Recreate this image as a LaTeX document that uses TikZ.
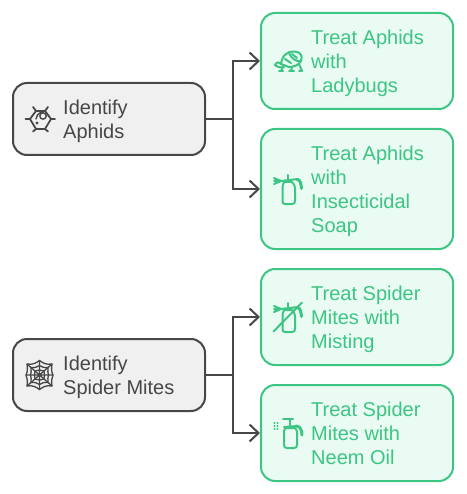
\documentclass[tikz,border=0pt]{standalone}
\usepackage{fontspec}
\setmainfont{Liberation Sans}
\usetikzlibrary{arrows.meta}
\definecolor{ink}{HTML}{474747}
\definecolor{grn}{HTML}{3CC583}
\definecolor{grnfill}{HTML}{E9FBF3}
\definecolor{gry}{HTML}{F0F0F0}
\tikzset{
 x=1pt,y=-1pt,
 graybox/.style={draw=ink,fill=gry,line width=2pt,rounded corners=14pt,minimum width=192pt,minimum height=72pt,inner sep=0pt},
 greenbox/.style={draw=grn,fill=grnfill,line width=2pt,rounded corners=14pt,minimum width=192pt,inner sep=0pt},
 graytxt/.style={anchor=west,align=left,inner sep=0pt,text=ink,font=\fontsize{20}{24}\selectfont},
 greentxt/.style={anchor=west,align=left,inner sep=0pt,text=grn,font=\fontsize{20}{24}\selectfont},
 conn/.style={draw=ink,line width=2pt,-{Straight Barb[length=9pt,width=17pt,line width=2pt]}},
 stem/.style={draw=ink,line width=2pt},
 icong/.style={draw=ink,line width=1.8pt,line cap=round,line join=round},
 icongr/.style={draw=grn,line width=2pt,line cap=round,line join=round},
}
\begin{document}
\begin{tikzpicture}
\useasboundingbox (0,0) rectangle (466,494);
% boxes
\node[graybox] (a) at (109,119) {};
\node[graybox] (s) at (109,375) {};
\node[greenbox,minimum height=96pt] (g1) at (357,61) {};
\node[greenbox,minimum height=120pt] (g2) at (357,189) {};
\node[greenbox,minimum height=96pt] (g3) at (357,317) {};
\node[greenbox,minimum height=96pt] (g4) at (357,433) {};
% connectors
\coordinate (ja) at (233,119);
\coordinate (js) at (233,375);
\draw[stem] (a.east) -- (ja);
\draw[stem] (s.east) -- (js);
\draw[conn] (ja) |- (g1.west);
\draw[conn] (ja) |- (g2.west);
\draw[conn] (js) |- (g3.west);
\draw[conn] (js) |- (g4.west);
% labels
\node[graytxt] (ta) at (63,122) {\strut Identify\\\strut Aphids};
\node[graytxt] (ts) at (63,378) {\strut Identify\\\strut Spider Mites};
\node[greentxt] (t1) at (311,64) {\strut Treat Aphids\\\strut with\\\strut Ladybugs};
\node[greentxt] (t2) at (311,192) {\strut Treat Aphids\\\strut with\\\strut Insecticidal\\\strut Soap};
\node[greentxt] (t3) at (311,320) {\strut Treat Spider\\\strut Mites with\\\strut Misting};
\node[greentxt] (t4) at (311,436) {\strut Treat Spider\\\strut Mites with\\\strut Neem Oil};
% aphid icon
\begin{scope}[icong]
\draw (36,111) -- (45,111) -- (51,119) -- (45,129) -- (36,129) -- (30,119) -- cycle;
\draw (25.5,119) -- (30,119) (51,119) -- (55,119);
\draw (36,111) -- (33,107) (45,111) -- (48,107);
\draw (36,129) -- (33,131.5) (45,129) -- (48,131.5);
\draw[line width=1.4pt] (43,116) circle (3.2);
\fill[ink] (37,123) circle (1.6);
\draw[line width=1.4pt] (36,119) .. controls (36,116) and (38,113.5) .. (42,112);
\end{scope}
% web icon
\begin{scope}[icong,line width=1.3pt]
\draw (27,364) .. controls (33,365) and (36,363) .. (39.5,360.5) .. controls (43,363) and (46,365) .. (52,364) .. controls (51,370) and (52,373) .. (53,375) .. controls (52,378) and (51,381) .. (52,386) .. controls (46,385) and (43,387) .. (39.5,389.5) .. controls (36,387) and (33,385) .. (27,386) .. controls (28,381) and (27,378) .. (26,375) .. controls (27,373) and (28,370) .. (27,364);
\draw (31,367.5) .. controls (35,368) and (37,367) .. (39.5,365.5) .. controls (42,367) and (44,368) .. (48,367.5) .. controls (47.5,371) and (48,373) .. (48.5,375) .. controls (48,377) and (47.5,379) .. (48,382.5) .. controls (44,382) and (42,383) .. (39.5,384.5) .. controls (37,383) and (35,382) .. (31,382.5) .. controls (31.5,379) and (31,377) .. (30.5,375) .. controls (31,373) and (31.5,371) .. (31,367.5);
\draw (35,371) -- (39.5,370) -- (44,371) -- (44.5,375) -- (44,379) -- (39.5,380) -- (35,379) -- (34.5,375) -- cycle;
\draw (39.5,360.5) -- (39.5,389.5) (26,375) -- (53,375) (27,364) -- (52,386) (27,386) -- (52,364);
\end{scope}
% ladybug icon
\begin{scope}[icongr]
\draw (281,64) .. controls (282,55) and (288,51) .. (294,51.5) .. controls (301,52) and (303,56) .. (301,61) .. controls (299,65) and (294,67) .. (289,67) -- (281,64);
\draw (289,53) .. controls (291,58) and (296,62) .. (301,61);
\draw (285,59) -- (291,63) (292,54) -- (297,58);
\draw (281,64) .. controls (278,61) and (275,63) .. (275,65) .. controls (277,67) and (281,68) .. (284,67);
\draw (283,67) -- (281,71) (292,67) -- (291,71) (299,64) -- (302,71) (279,71) -- (283,71) (289,71) -- (294,71) (299,71) -- (302,71);
\end{scope}
% insecticide spray
\begin{scope}[icongr]
\draw (284,182) -- (292,182) .. controls (294,184) and (295,186) .. (295,188) -- (295,201) .. controls (295,203) and (294,204) .. (292,204) -- (285,204) .. controls (283,204) and (282.5,203) .. (282.5,201) -- (282.5,188) .. controls (282.5,186) and (283,184) .. (284,182);
\draw (288,175) -- (288,181);
\draw (281,181) -- (298,179);
\draw[line width=3pt] (297,179.5) .. controls (300,179.5) and (301,183) .. (301.5,188.5);
\draw (274,178) -- (281,181) (274,181) -- (281,181) (274,184) -- (281,181);
\end{scope}
% misting spray
\begin{scope}[icongr]
\draw (284,310) -- (292,310) .. controls (294,312) and (295,314) .. (295,316) -- (295,329) .. controls (295,331) and (294,332) .. (292,332) -- (285,332) .. controls (283,332) and (282.5,331) .. (282.5,329) -- (282.5,316) .. controls (282.5,314) and (283,312) .. (284,310);
\draw (288,303) -- (288,309);
\draw (281,309) -- (298,307);
\draw[line width=3pt] (297,307.5) .. controls (300,307.5) and (301,311) .. (301.5,316.5);
\draw (274,306) -- (281,309) (274,309) -- (281,309) (274,312) -- (281,309);
\draw (273.5,331.5) -- (302,302.5);
\end{scope}
% neem spray
\begin{scope}[icongr]
\draw (286,428) -- (295,428) .. controls (296.5,429) and (297,431) .. (297,433) -- (297,445) .. controls (297,447) and (296,448) .. (294,448) -- (287,448) .. controls (285,448) and (284,447) .. (284,445) -- (284,431) .. controls (284,430) and (285,429) .. (286,428);
\draw (283,419) -- (293,419) (290,419) -- (290,426);
\draw (284,427) -- (297,426);
\draw[line width=3pt] (296,426) .. controls (300,426) and (302,430) .. (302,435);
\end{scope}
\foreach \px/\py in {274.5/423,277.5/423,274.5/426,277.5/426,274.5/429,277.5/429}
  \fill[grn] (\px,\py) circle (1.1);
\end{tikzpicture}
\end{document}
